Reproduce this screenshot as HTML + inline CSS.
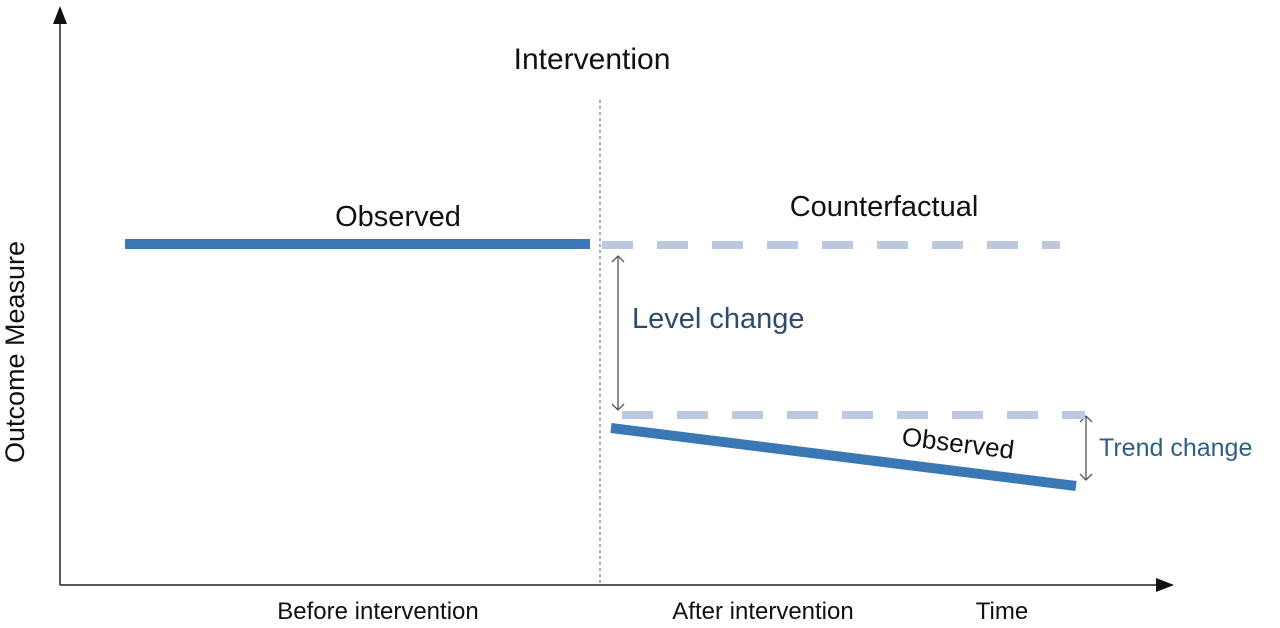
<!DOCTYPE html>
<html><head><meta charset="utf-8"><style>
body{margin:0;background:#fff;width:1280px;height:628px;overflow:hidden}
svg{display:block;font-family:"Liberation Sans","DejaVu Sans",sans-serif}
</style></head><body>
<svg id="c" width="1280" height="628">
<defs>
<marker id="ah" markerUnits="userSpaceOnUse" markerWidth="14" markerHeight="14" refX="7" refY="7" orient="auto-start-reverse" viewBox="0 0 14 14"><path d="M1,1 L7,7 L1,13" fill="none" stroke="#555" stroke-width="1.3"/></marker>
</defs>
<line x1="60" y1="585" x2="60" y2="22" stroke="#222" stroke-width="1.5"/>
<polygon points="53,24 60,6 67,24" fill="#111"/>
<line x1="60" y1="585" x2="1158" y2="585" stroke="#222" stroke-width="1.5"/>
<polygon points="1156,578 1174,585 1156,592" fill="#111"/>
<text x="24" y="352" font-size="27" fill="#111" text-anchor="middle" transform="rotate(-90 24 352)">Outcome Measure</text>
<text x="378" y="619" font-size="24" fill="#111" text-anchor="middle">Before intervention</text>
<text x="763" y="619" font-size="24" fill="#111" text-anchor="middle">After intervention</text>
<text x="1002" y="619" font-size="24" fill="#111" text-anchor="middle">Time</text>
<line x1="600" y1="100" x2="600" y2="585" stroke="#5b8bb0" stroke-width="1.3" stroke-dasharray="3,3"/>
<text x="592" y="69" font-size="30" fill="#111" text-anchor="middle">Intervention</text>
<text x="398" y="226" font-size="29" fill="#111" text-anchor="middle">Observed</text>
<text x="884" y="216" font-size="29" fill="#111" text-anchor="middle">Counterfactual</text>
<text x="632" y="328" font-size="29" fill="#2f4b6a">Level change</text>
<text x="1099" y="456" font-size="25" fill="#2f5f80">Trend change</text>
<text x="957" y="452" font-size="26" fill="#111" text-anchor="middle" transform="rotate(7 957 452)">Observed</text>
<line x1="618" y1="256" x2="618" y2="410" stroke="#555" stroke-width="1.3" marker-start="url(#ah)" marker-end="url(#ah)"/>
<line x1="1086" y1="416" x2="1086" y2="480" stroke="#555" stroke-width="1.3" marker-start="url(#ah)" marker-end="url(#ah)"/>
<g id="marks"></g>
</svg>
<script>
// time domain 0..110, outcome domain 0..100
const segmentNames = ['pre-observed','counterfactual-level','counterfactual-trend','post-observed'];
const startTimes = [6.5, 54.2, 56.2, 55.1];
const endTimes = [53, 100, 102.5, 101.6];
const startValues = [68.2, 68, 34, 31.4];
const endValues = [68.2, 68, 34, 19.8];
const xs = t => 60 + t * 10;
const ys = v => 585 - v * 5;
const g = document.getElementById('marks');
for (let i = 0; i < segmentNames.length; i++) {
  const l = document.createElementNS('http://www.w3.org/2000/svg', 'line');
  l.setAttribute('x1', xs(startTimes[i])); l.setAttribute('x2', xs(endTimes[i]));
  l.setAttribute('y1', ys(startValues[i])); l.setAttribute('y2', ys(endValues[i]));
  const dashed = segmentNames[i].startsWith('counterfactual');
  l.setAttribute('stroke', dashed ? '#bcc8e0' : '#3b76b5');
  l.setAttribute('stroke-width', dashed ? 8 : 10);
  if (dashed) l.setAttribute('stroke-dasharray', '31,24');
  
  
  g.appendChild(l);
}
</script>
</body></html>
